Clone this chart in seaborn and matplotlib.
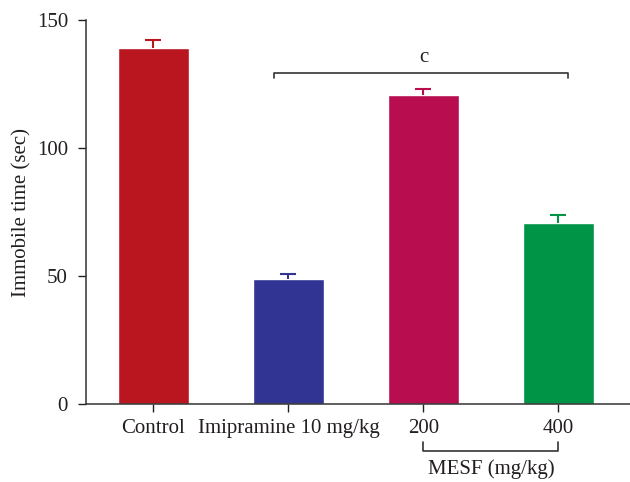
import matplotlib
matplotlib.use("Agg")
import matplotlib.pyplot as plt
import seaborn as sns
import pandas as pd

groups = ["Control", "Imipramine 10 mg/kg", "200", "400"]
means = [139.0, 48.8, 120.6, 70.6]
sem = [3.3, 2.1, 2.5, 3.3]
colors = ["#BA161F", "#323494", "#B80D4F", "#009447"]
y_ticks = [0, 50, 100, 150]

sns.set_style("white")
plt.rcParams["font.family"] = ["Liberation Serif", "DejaVu Serif"]

df = pd.DataFrame({"group": groups, "time": means})

fig = plt.figure(figsize=(6.3, 4.82), dpi=100)
ax = fig.add_axes([86 / 630, 1 - 404 / 482, (630 - 86) / 630, 384 / 482])

sns.barplot(data=df, x="group", y="time", hue="group", palette=colors,
            width=0.52, saturation=1, legend=False, errorbar=None, ax=ax)

# upper-only SEM whiskers
for i, (m, e, c) in enumerate(zip(means, sem, colors)):
    _, caps, _ = ax.errorbar(i, m, yerr=[[0], [e]], fmt="none", ecolor=c,
                             elinewidth=1.5, capsize=6, capthick=1.5,
                             zorder=3)
    caps[0].set_visible(False)

ax.set_xlim(-0.5, 3.53)
ax.set_ylim(0, 150)
ax.set_yticks(y_ticks)
ax.set_xlabel("")
ax.set_ylabel("Immobile time (sec)", fontsize=15, color="#231f20", labelpad=4)
ax.tick_params(axis="both", labelsize=15, colors="#231f20",
               direction="out", length=6, width=1, left=True, bottom=True)
ax.tick_params(axis="x", pad=5)
ax.tick_params(axis="y", pad=7)
for t in ax.get_xticklabels() + ax.get_yticklabels():
    t.set_color("#231f20")

sns.despine(ax=ax)
for s in ("left", "bottom"):
    ax.spines[s].set_color("#333333")
    ax.spines[s].set_linewidth(1.1)

# significance bracket over imipramine .. MESF 400
y_top, y_end = 129.4, 127.3
x0, x1 = 0.89, 3.07
ax.plot([x0, x0, x1, x1], [y_end, y_top, y_top, y_end], color="#333333",
        lw=1.2, clip_on=False)
ax.text(2.0, y_top + 2.3, "c", ha="center", va="bottom", fontsize=15,
        color="#231f20")

# dose bracket below the MESF ticks
trans = ax.get_xaxis_transform()
yb_top, yb_bot = -38 / 384, -47 / 384
ax.plot([2, 2, 3, 3], [yb_top, yb_bot, yb_bot, yb_top], color="#333333",
        lw=1.2, transform=trans, clip_on=False)
ax.text(2.5, -55 / 384, "MESF (mg/kg)", ha="center", va="top", fontsize=15,
        color="#231f20", transform=trans)

fig.savefig("out.png", dpi=100)
